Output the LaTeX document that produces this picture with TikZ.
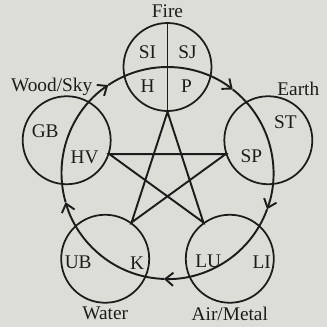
\documentclass[tikz,border=0pt]{standalone}
\usepackage{fontspec}
\setmainfont{Liberation Serif}
\usetikzlibrary{positioning,arrows.meta}
\definecolor{paper}{RGB}{221,221,216}
\definecolor{ink}{RGB}{28,28,28}
\tikzset{
  elem/.style={circle,draw=ink,line width=1pt,minimum size=1.76cm,inner sep=0pt},
  organ/.style={inner sep=0pt,text=ink,font=\fontsize{11}{13}\selectfont},
  elemname/.style={inner sep=2pt,text=ink,font=\fontsize{11}{13}\selectfont},
  cycle arrow/.style={-{Straight Barb[length=4.5pt,width=7.5pt]}}
}
\begin{document}
\begin{tikzpicture}[line width=1.1pt,draw=ink]
    \fill[paper] (-3.35,-3.08) rectangle (3.19,3.46);
    \useasboundingbox (-3.35,-3.08) rectangle (3.19,3.46);
    % the five elements
    \node[elem] (fire)  at (90:2.12)   {};
    \node[elem] (earth) at (18:2.12)   {};
    \node[elem] (air)   at (-54:2.12)  {};
    \node[elem] (water) at (-126:2.12) {};
    \node[elem] (wood)  at (162:2.12)  {};
    % cycle through the centres
    \foreach \a in {90,18,-54,-126,-198} {
        \draw[cycle arrow] (\a:2.12) arc[start angle=\a, end angle=\a-38, radius=2.12];
        \draw (\a-38:2.12) arc[start angle=\a-38, end angle=\a-72, radius=2.12];
    }
    % star
    \draw[line join=miter] (fire.270) -- (water.54) -- (earth.198) -- (wood.342) -- (air.126) -- cycle;
    \draw (fire.north) -- (fire.south);
    % names
    \node[elemname, above=0pt of fire] (firetxt) {Fire};
    \node[elemname, above=-3pt of earth, xshift=0.6cm] (earthtxt) {Earth};
    \node[elemname, above=-3pt of wood, xshift=-0.3cm] (woodtxt) {Wood/Sky};
    \node[elemname, below=-0.5pt of water] (watertxt) {Water};
    \node[elemname, below=-0.5pt of air] (airtxt) {Air/Metal};
    % organs
    \node[organ] (si) at ([shift={(-0.4,0.3)}]fire)   {SI};
    \node[organ] (sj) at ([shift={(0.4,0.3)}]fire)    {SJ};
    \node[organ] (h)  at ([shift={(-0.4,-0.38)}]fire) {H};
    \node[organ] (p)  at ([shift={(0.38,-0.38)}]fire) {P};
    \node[organ] (gb) at ([shift={(-0.43,0.18)}]wood) {GB};
    \node[organ] (hv) at ([shift={(0.36,-0.34)}]wood) {HV};
    \node[organ] (st) at ([shift={(0.34,0.36)}]earth) {ST};
    \node[organ] (sp) at ([shift={(-0.34,-0.31)}]earth) {SP};
    \node[organ] (ub) at ([shift={(-0.54,-0.08)}]water) {UB};
    \node[organ] (k)  at ([shift={(0.64,-0.08)}]water) {K};
    \node[organ] (lu) at ([shift={(-0.43,-0.06)}]air) {LU};
    \node[organ] (li) at ([shift={(0.64,-0.06)}]air) {LI};
\end{tikzpicture}
\end{document}
